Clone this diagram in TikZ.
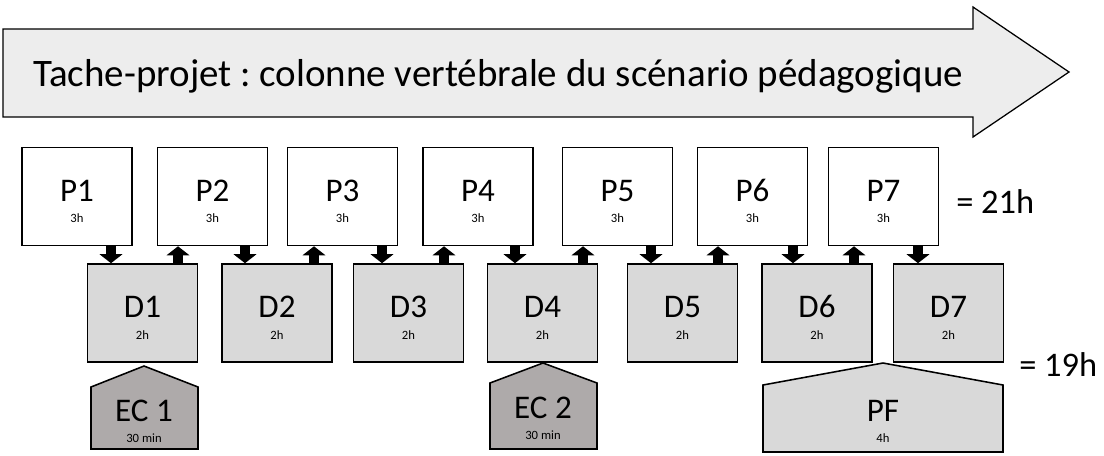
\documentclass[tikz,border=0pt]{standalone}
\usepackage{fontspec}
\setmainfont{Carlito}
\usepackage{xcolor}
\usepackage{tikz}
\usetikzlibrary{calc,arrows.meta}
\frenchspacing
\definecolor{pale}{HTML}{EDEDED}
\definecolor{dgray}{HTML}{D9D9D9}
\definecolor{ecgray}{HTML}{AEAAAA}
% big label and hours, baselines fixed from the node centre
\newcommand{\lbl}[2]{%
  \makebox[0pt]{\raisebox{-3.2pt}[0pt][0pt]{#1}}%
  \makebox[0pt]{\raisebox{-18.8pt}[0pt][0pt]{\fontsize{9}{11}\selectfont #2}}}
\tikzset{
  pbox/.style={draw, fill=white, line width=1.1pt, minimum width=2.75cm, minimum height=2.45cm,
    inner sep=0pt, font=\fontsize{23.5}{28}\selectfont},
  dbox/.style={pbox, fill=dgray},
  house/.style={draw, line width=1.1pt},
  lab/.style={inner sep=0pt, font=\fontsize{23.5}{28}\selectfont},
  flow/.style={line width=7pt, -{Triangle[width=16pt,length=6.4pt]}}
}

\begin{document}
\begin{tikzpicture}[x=0.025cm, y=-0.025cm]
  \useasboundingbox (0,0) rectangle (1104,455);

  % big arrow on top
  \draw[fill=pale, line width=0.9pt] (3,29) -- (973,29) -- (973,7) -- (1069,72)
    -- (973,137) -- (973,117) -- (3,117) -- cycle;
  \node[lab, font=\fontsize{27.7}{30}\selectfont, anchor=base west] (title) at (33,86.7)
    {Tache-projet : colonne vertébrale du scénario pédagogique};

  % project sessions
  \node[pbox] (P1) at (77,196.5) {\lbl{P1}{3h}};
  \node[pbox] (P2) at (212.5,196.5) {\lbl{P2}{3h}};
  \node[pbox] (P3) at (342.5,196.5) {\lbl{P3}{3h}};
  \node[pbox] (P4) at (478,196.5) {\lbl{P4}{3h}};
  \node[pbox] (P5) at (617.5,196.5) {\lbl{P5}{3h}};
  \node[pbox] (P6) at (752.5,196.5) {\lbl{P6}{3h}};
  \node[pbox] (P7) at (883.5,196.5) {\lbl{P7}{3h}};

  % discipline sessions
  \node[dbox] (D1) at (142.5,313) {\lbl{D1}{2h}};
  \node[dbox] (D2) at (277,313) {\lbl{D2}{2h}};
  \node[dbox] (D3) at (408.5,313) {\lbl{D3}{2h}};
  \node[dbox] (D4) at (542.5,313) {\lbl{D4}{2h}};
  \node[dbox] (D5) at (682.5,313) {\lbl{D5}{2h}};
  \node[dbox] (D6) at (817,313) {\lbl{D6}{2h}};
  \node[dbox] (D7) at (948.5,313) {\lbl{D7}{2h}};

  % down P -> D, up D -> P
  \draw[flow] (P1.south -| 111,0) -- (D1.north -| 111,0);
  \draw[flow] (D1.north -| 178,0) -- (P2.south -| 178,0);
  \draw[flow] (P2.south -| 245,0) -- (D2.north -| 245,0);
  \draw[flow] (D2.north -| 314,0) -- (P3.south -| 314,0);
  \draw[flow] (P3.south -| 382,0) -- (D3.north -| 382,0);
  \draw[flow] (D3.north -| 444,0) -- (P4.south -| 444,0);
  \draw[flow] (P4.south -| 515,0) -- (D4.north -| 515,0);
  \draw[flow] (D4.north -| 583,0) -- (P5.south -| 583,0);
  \draw[flow] (P5.south -| 651,0) -- (D5.north -| 651,0);
  \draw[flow] (D5.north -| 718,0) -- (P6.south -| 718,0);
  \draw[flow] (P6.south -| 793,0) -- (D6.north -| 793,0);
  \draw[flow] (D6.north -| 854,0) -- (P7.south -| 854,0);
  \draw[flow] (P7.south -| 918,0) -- (D7.north -| 918,0);

  % evaluations and final project
  \draw[house, fill=ecgray] (91,449) -- (91,387) -- (144,366) -- (198,387) -- (198,449) -- cycle;
  \node[lab] (EC1) at (144,416.5) {\lbl{EC 1}{30 min}};
  \draw[house, fill=ecgray] (490,449) -- (490,383) -- (543,363) -- (597,383) -- (597,449) -- cycle;
  \node[lab] (EC2) at (543,413.5) {\lbl{EC 2}{30 min}};
  \draw[house, fill=dgray] (763,452) -- (763,385) -- (883,363) -- (1003,385) -- (1003,452) -- cycle;
  \node[lab] (PF) at (883,416.5) {\lbl{PF}{4h}};

  % totals
  \node[lab, font=\fontsize{24.5}{28}\selectfont, anchor=west] (tot1) at (956,202) {= 21h};
  \node[lab, font=\fontsize{24.5}{28}\selectfont, anchor=west] (tot2) at (1019,365) {= 19h};
\end{tikzpicture}
\end{document}
